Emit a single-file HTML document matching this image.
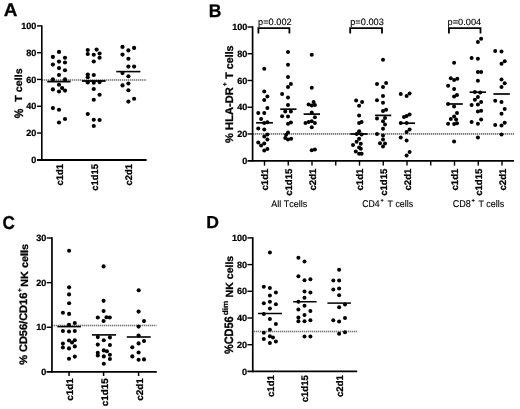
<!DOCTYPE html>
<html><head><meta charset="utf-8"><style>
html,body{margin:0;padding:0;background:#fff;}
body{width:520px;height:409px;overflow:hidden;}
svg{display:block;will-change:transform;}
text{font-family:"Liberation Sans",sans-serif;font-kerning:none;text-rendering:geometricPrecision;}
text[font-weight=bold]{stroke:#000;stroke-width:0.28px;}
text[font-weight=normal]{stroke:#000;stroke-width:0.12px;}
</style></head><body>
<svg width="520" height="409" viewBox="0 0 520 409">
<rect width="520" height="409" fill="#fff"/>
<text transform="translate(3.73,15.70) scale(1.8930,1.8169)" font-size="10.0" font-weight="bold" fill="#000" style="stroke-width:0.15px">A</text>
<text transform="translate(208.83,16.60) scale(1.7545,1.8314)" font-size="10.0" font-weight="bold" fill="#000" style="stroke-width:0.15px">B</text>
<text transform="translate(2.50,229.42) scale(1.7130,1.8644)" font-size="10.0" font-weight="bold" fill="#000" style="stroke-width:0.15px">C</text>
<text transform="translate(206.22,228.20) scale(1.7610,1.7297)" font-size="10.0" font-weight="bold" fill="#000" style="stroke-width:0.15px">D</text>
<line x1="42" y1="80.05000000000001" x2="146.3" y2="80.05000000000001" stroke="#cfcfcf" stroke-width="1.6" />
<line x1="42" y1="80.05000000000001" x2="146.3" y2="80.05000000000001" stroke="#7a7a7a" stroke-width="1.6" stroke-dasharray="1,1"/>
<line x1="41.8" y1="25.150000000000006" x2="41.8" y2="160.4" stroke="#000" stroke-width="1.6" />
<line x1="37.0" y1="160.0" x2="146.6" y2="160.0" stroke="#000" stroke-width="1.8" />
<line x1="37.0" y1="25.900000000000006" x2="41.8" y2="25.900000000000006" stroke="#000" stroke-width="1.4" />
<line x1="37.0" y1="52.68000000000001" x2="41.8" y2="52.68000000000001" stroke="#000" stroke-width="1.4" />
<line x1="37.0" y1="79.46000000000001" x2="41.8" y2="79.46000000000001" stroke="#000" stroke-width="1.4" />
<line x1="37.0" y1="106.24000000000001" x2="41.8" y2="106.24000000000001" stroke="#000" stroke-width="1.4" />
<line x1="37.0" y1="133.02" x2="41.8" y2="133.02" stroke="#000" stroke-width="1.4" />
<text transform="translate(21.19,29.03) scale(0.9100,0.9100)" font-size="10.0" font-weight="bold" fill="#000" style="stroke-width:0.25px">100</text>
<text transform="translate(26.25,55.81) scale(0.9100,0.9100)" font-size="10.0" font-weight="bold" fill="#000" style="stroke-width:0.25px">80</text>
<text transform="translate(26.25,82.59) scale(0.9100,0.9100)" font-size="10.0" font-weight="bold" fill="#000" style="stroke-width:0.25px">60</text>
<text transform="translate(26.25,109.37) scale(0.9100,0.9100)" font-size="10.0" font-weight="bold" fill="#000" style="stroke-width:0.25px">40</text>
<text transform="translate(26.25,136.15) scale(0.9100,0.9100)" font-size="10.0" font-weight="bold" fill="#000" style="stroke-width:0.25px">20</text>
<text transform="translate(31.31,162.93) scale(0.9100,0.9100)" font-size="10.0" font-weight="bold" fill="#000" style="stroke-width:0.25px">0</text>
<text transform="translate(62.53,185.46) rotate(-90) scale(0.9400,0.9600)" font-size="10.0" font-weight="bold" fill="#000" >c1d1</text>
<text transform="translate(97.73,190.69) rotate(-90) scale(0.9400,0.9600)" font-size="10.0" font-weight="bold" fill="#000" >c1d15</text>
<text transform="translate(131.73,185.46) rotate(-90) scale(0.9400,0.9600)" font-size="10.0" font-weight="bold" fill="#000" >c2d1</text>
<line x1="253" y1="133.9" x2="514.2" y2="133.9" stroke="#cfcfcf" stroke-width="1.6" />
<line x1="253" y1="133.9" x2="514.2" y2="133.9" stroke="#7a7a7a" stroke-width="1.6" stroke-dasharray="1,1"/>
<line x1="252.6" y1="26.25" x2="252.6" y2="161.6" stroke="#000" stroke-width="1.7" />
<line x1="247.5" y1="160.8" x2="514.0" y2="160.8" stroke="#000" stroke-width="1.7" />
<line x1="247.5" y1="27.0" x2="252.6" y2="27.0" stroke="#000" stroke-width="1.4" />
<line x1="247.5" y1="53.739999999999995" x2="252.6" y2="53.739999999999995" stroke="#000" stroke-width="1.4" />
<line x1="247.5" y1="80.47999999999999" x2="252.6" y2="80.47999999999999" stroke="#000" stroke-width="1.4" />
<line x1="247.5" y1="107.22" x2="252.6" y2="107.22" stroke="#000" stroke-width="1.4" />
<line x1="247.5" y1="133.95999999999998" x2="252.6" y2="133.95999999999998" stroke="#000" stroke-width="1.4" />
<text transform="translate(232.19,30.13) scale(0.9100,0.9100)" font-size="10.0" font-weight="bold" fill="#000" style="stroke-width:0.25px">100</text>
<text transform="translate(237.25,56.87) scale(0.9100,0.9100)" font-size="10.0" font-weight="bold" fill="#000" style="stroke-width:0.25px">80</text>
<text transform="translate(237.25,83.61) scale(0.9100,0.9100)" font-size="10.0" font-weight="bold" fill="#000" style="stroke-width:0.25px">60</text>
<text transform="translate(237.25,110.35) scale(0.9100,0.9100)" font-size="10.0" font-weight="bold" fill="#000" style="stroke-width:0.25px">40</text>
<text transform="translate(237.25,137.09) scale(0.9100,0.9100)" font-size="10.0" font-weight="bold" fill="#000" style="stroke-width:0.25px">20</text>
<text transform="translate(242.31,163.83) scale(0.9100,0.9100)" font-size="10.0" font-weight="bold" fill="#000" style="stroke-width:0.25px">0</text>
<line x1="264.5" y1="160.8" x2="264.5" y2="165.6" stroke="#000" stroke-width="1.4" />
<line x1="288.25" y1="160.8" x2="288.25" y2="165.6" stroke="#000" stroke-width="1.4" />
<line x1="312.0" y1="160.8" x2="312.0" y2="165.6" stroke="#000" stroke-width="1.4" />
<line x1="335.75" y1="160.8" x2="335.75" y2="165.6" stroke="#000" stroke-width="1.4" />
<line x1="359.5" y1="160.8" x2="359.5" y2="165.6" stroke="#000" stroke-width="1.4" />
<line x1="383.25" y1="160.8" x2="383.25" y2="165.6" stroke="#000" stroke-width="1.4" />
<line x1="407.0" y1="160.8" x2="407.0" y2="165.6" stroke="#000" stroke-width="1.4" />
<line x1="430.75" y1="160.8" x2="430.75" y2="165.6" stroke="#000" stroke-width="1.4" />
<line x1="454.5" y1="160.8" x2="454.5" y2="165.6" stroke="#000" stroke-width="1.4" />
<line x1="478.25" y1="160.8" x2="478.25" y2="165.6" stroke="#000" stroke-width="1.4" />
<line x1="502.0" y1="160.8" x2="502.0" y2="165.6" stroke="#000" stroke-width="1.4" />
<text transform="translate(268.03,190.51) rotate(-90) scale(0.9600,0.9600)" font-size="10.0" font-weight="bold" fill="#000" >c1d1</text>
<text transform="translate(291.78,195.85) rotate(-90) scale(0.9600,0.9600)" font-size="10.0" font-weight="bold" fill="#000" >c1d15</text>
<text transform="translate(315.53,190.51) rotate(-90) scale(0.9600,0.9600)" font-size="10.0" font-weight="bold" fill="#000" >c2d1</text>
<text transform="translate(363.03,190.51) rotate(-90) scale(0.9600,0.9600)" font-size="10.0" font-weight="bold" fill="#000" >c1d1</text>
<text transform="translate(386.78,195.85) rotate(-90) scale(0.9600,0.9600)" font-size="10.0" font-weight="bold" fill="#000" >c1d15</text>
<text transform="translate(410.53,190.51) rotate(-90) scale(0.9600,0.9600)" font-size="10.0" font-weight="bold" fill="#000" >c2d1</text>
<text transform="translate(458.03,190.51) rotate(-90) scale(0.9600,0.9600)" font-size="10.0" font-weight="bold" fill="#000" >c1d1</text>
<text transform="translate(481.78,195.85) rotate(-90) scale(0.9600,0.9600)" font-size="10.0" font-weight="bold" fill="#000" >c1d15</text>
<text transform="translate(505.53,190.51) rotate(-90) scale(0.9600,0.9600)" font-size="10.0" font-weight="bold" fill="#000" >c2d1</text>
<line x1="52" y1="325.45" x2="156.5" y2="325.45" stroke="#cfcfcf" stroke-width="1.6" />
<line x1="52" y1="325.45" x2="156.5" y2="325.45" stroke="#7a7a7a" stroke-width="1.6" stroke-dasharray="1,1"/>
<line x1="51.95" y1="237.25999999999996" x2="51.95" y2="372.8" stroke="#000" stroke-width="1.7" />
<line x1="46.5" y1="371.9" x2="156.8" y2="371.9" stroke="#000" stroke-width="1.8" />
<line x1="46.7" y1="238.00999999999996" x2="51.95" y2="238.00999999999996" stroke="#000" stroke-width="1.4" />
<line x1="46.7" y1="282.64" x2="51.95" y2="282.64" stroke="#000" stroke-width="1.4" />
<line x1="46.7" y1="327.27" x2="51.95" y2="327.27" stroke="#000" stroke-width="1.4" />
<text transform="translate(36.25,241.14) scale(0.9100,0.9100)" font-size="10.0" font-weight="bold" fill="#000" style="stroke-width:0.25px">30</text>
<text transform="translate(36.25,285.77) scale(0.9100,0.9100)" font-size="10.0" font-weight="bold" fill="#000" style="stroke-width:0.25px">20</text>
<text transform="translate(36.25,330.40) scale(0.9100,0.9100)" font-size="10.0" font-weight="bold" fill="#000" style="stroke-width:0.25px">10</text>
<text transform="translate(41.31,375.03) scale(0.9100,0.9100)" font-size="10.0" font-weight="bold" fill="#000" style="stroke-width:0.25px">0</text>
<line x1="69.05" y1="371.9" x2="69.05" y2="376.0" stroke="#000" stroke-width="1.5" />
<line x1="103.6" y1="371.9" x2="103.6" y2="376.0" stroke="#000" stroke-width="1.5" />
<line x1="138.6" y1="371.9" x2="138.6" y2="376.0" stroke="#000" stroke-width="1.5" />
<text transform="translate(73.33,400.69) rotate(-90) scale(0.9900,0.9600)" font-size="10.0" font-weight="bold" fill="#000" >c1d1</text>
<text transform="translate(108.03,406.20) rotate(-90) scale(0.9900,0.9600)" font-size="10.0" font-weight="bold" fill="#000" >c1d15</text>
<text transform="translate(142.93,400.69) rotate(-90) scale(0.9900,0.9600)" font-size="10.0" font-weight="bold" fill="#000" >c2d1</text>
<line x1="254" y1="331.45" x2="357.0" y2="331.45" stroke="#cfcfcf" stroke-width="1.6" />
<line x1="254" y1="331.45" x2="357.0" y2="331.45" stroke="#7a7a7a" stroke-width="1.6" stroke-dasharray="1,1"/>
<line x1="252.75" y1="237.14999999999998" x2="252.75" y2="372.3" stroke="#000" stroke-width="1.7" />
<line x1="247.4" y1="371.4" x2="357.2" y2="371.4" stroke="#000" stroke-width="1.8" />
<line x1="247.4" y1="237.89999999999998" x2="252.75" y2="237.89999999999998" stroke="#000" stroke-width="1.4" />
<line x1="247.4" y1="264.59999999999997" x2="252.75" y2="264.59999999999997" stroke="#000" stroke-width="1.4" />
<line x1="247.4" y1="291.29999999999995" x2="252.75" y2="291.29999999999995" stroke="#000" stroke-width="1.4" />
<line x1="247.4" y1="318.0" x2="252.75" y2="318.0" stroke="#000" stroke-width="1.4" />
<line x1="247.4" y1="344.7" x2="252.75" y2="344.7" stroke="#000" stroke-width="1.4" />
<text transform="translate(231.89,241.03) scale(0.9100,0.9100)" font-size="10.0" font-weight="bold" fill="#000" style="stroke-width:0.25px">100</text>
<text transform="translate(236.95,267.73) scale(0.9100,0.9100)" font-size="10.0" font-weight="bold" fill="#000" style="stroke-width:0.25px">80</text>
<text transform="translate(236.95,294.43) scale(0.9100,0.9100)" font-size="10.0" font-weight="bold" fill="#000" style="stroke-width:0.25px">60</text>
<text transform="translate(236.95,321.13) scale(0.9100,0.9100)" font-size="10.0" font-weight="bold" fill="#000" style="stroke-width:0.25px">40</text>
<text transform="translate(236.95,347.83) scale(0.9100,0.9100)" font-size="10.0" font-weight="bold" fill="#000" style="stroke-width:0.25px">20</text>
<text transform="translate(242.01,374.53) scale(0.9100,0.9100)" font-size="10.0" font-weight="bold" fill="#000" style="stroke-width:0.25px">0</text>
<text transform="translate(273.53,397.01) rotate(-90) scale(0.9600,0.9600)" font-size="10.0" font-weight="bold" fill="#000" >c1d1</text>
<text transform="translate(308.03,402.35) rotate(-90) scale(0.9600,0.9600)" font-size="10.0" font-weight="bold" fill="#000" >c1d15</text>
<text transform="translate(342.63,397.01) rotate(-90) scale(0.9600,0.9600)" font-size="10.0" font-weight="bold" fill="#000" >c2d1</text>
<text transform="translate(22.20,101.82) rotate(-90) scale(1.0750,1.0213)" font-size="10.0" font-weight="bold" fill="#000" >T cells</text>
<text transform="translate(22.60,118.17) rotate(-90) scale(1.0741,1.2223)" font-size="10.0" font-weight="bold" fill="#000" >%</text>
<text transform="translate(232.91,142.88) rotate(-90) scale(1.1142,1.0944)" font-size="10.0" font-weight="bold" fill="#000" >% HLA-DR</text>
<text transform="translate(227.23,86.28) rotate(-90) scale(0.6581,0.6695)" font-size="10.0" font-weight="bold" fill="#000" >+</text>
<text transform="translate(232.89,78.72) rotate(-90) scale(1.0684,1.0894)" font-size="10.0" font-weight="bold" fill="#000" >T cells</text>
<text transform="translate(27.38,364.87) rotate(-90) scale(1.1005,1.0878)" font-size="10.0" font-weight="bold" fill="#000" >% CD56/CD16</text>
<text transform="translate(22.04,291.88) rotate(-90) scale(0.6581,0.6892)" font-size="10.0" font-weight="bold" fill="#000" >+</text>
<text transform="translate(27.50,286.83) rotate(-90) scale(1.0864,1.0349)" font-size="10.0" font-weight="bold" fill="#000" >NK cells</text>
<text transform="translate(233.48,354.07) rotate(-90) scale(1.0961,1.2147)" font-size="10.0" font-weight="bold" fill="#000" >%CD56</text>
<text transform="translate(227.82,315.24) rotate(-90) scale(0.8240,0.7762)" font-size="10.0" font-weight="bold" fill="#000" >dim</text>
<text transform="translate(233.10,297.41) rotate(-90) scale(1.0551,1.0349)" font-size="10.0" font-weight="bold" fill="#000" >NK cells</text>
<text transform="translate(258.00,24.70) scale(0.9269,0.9169)" font-size="10.0" font-weight="normal" fill="#000" >p=0.002</text>
<text transform="translate(350.20,24.70) scale(0.9253,0.9169)" font-size="10.0" font-weight="normal" fill="#000" >p=0.003</text>
<text transform="translate(447.50,24.60) scale(0.9242,0.9026)" font-size="10.0" font-weight="normal" fill="#000" >p=0.004</text>
<path d="M258.4,33.5 V28.2 H289.40000000000003 V33.5" fill="none" stroke="#000" stroke-width="1.8"/>
<path d="M350.2,33.5 V28.2 H382.0 V33.5" fill="none" stroke="#000" stroke-width="1.8"/>
<path d="M448.9,33.5 V28.2 H480.5 V33.5" fill="none" stroke="#000" stroke-width="1.8"/>
<text transform="translate(271.28,207.01) scale(0.8984,0.9328)" font-size="10.0" font-weight="normal" fill="#000" >All Tcells</text>
<text transform="translate(362.16,207.20) scale(0.8696,0.9887)" font-size="10.0" font-weight="normal" fill="#000" >CD4</text>
<path d="M380.70,200.35H383.50M382.10,198.95V201.75" stroke="#000" stroke-width="0.8" fill="none"/>
<text transform="translate(387.60,207.21) scale(0.8832,0.9532)" font-size="10.0" font-weight="normal" fill="#000" >T cells</text>
<text transform="translate(452.74,207.20) scale(0.9075,0.9887)" font-size="10.0" font-weight="normal" fill="#000" >CD8</text>
<path d="M471.70,200.50H474.70M473.20,199.00V202.00" stroke="#000" stroke-width="0.8" fill="none"/>
<text transform="translate(478.40,207.21) scale(0.8938,0.9532)" font-size="10.0" font-weight="normal" fill="#000" >T cells</text>
<circle cx="59" cy="51.9" r="2.1"/>
<circle cx="52.9" cy="56.9" r="2.1"/>
<circle cx="65" cy="57.75" r="2.1"/>
<circle cx="59" cy="61.6" r="2.1"/>
<circle cx="65" cy="62.5" r="2.1"/>
<circle cx="52.9" cy="64.6" r="2.1"/>
<circle cx="59" cy="68.1" r="2.1"/>
<circle cx="65" cy="70.25" r="2.1"/>
<circle cx="59" cy="75" r="2.1"/>
<circle cx="52.9" cy="79.4" r="2.1"/>
<circle cx="65" cy="79.4" r="2.1"/>
<circle cx="59" cy="84.75" r="2.1"/>
<circle cx="62.1" cy="88.1" r="2.1"/>
<circle cx="52.9" cy="89.4" r="2.1"/>
<circle cx="59" cy="91.5" r="2.1"/>
<circle cx="65" cy="90.6" r="2.1"/>
<circle cx="52.9" cy="108.1" r="2.1"/>
<circle cx="59" cy="109.75" r="2.1"/>
<circle cx="65" cy="119" r="2.1"/>
<circle cx="59" cy="122.5" r="2.1"/>
<circle cx="87.75" cy="50" r="2.1"/>
<circle cx="96.6" cy="49.6" r="2.1"/>
<circle cx="87.75" cy="54" r="2.1"/>
<circle cx="93.75" cy="54.75" r="2.1"/>
<circle cx="99.6" cy="53.5" r="2.1"/>
<circle cx="99.6" cy="57.75" r="2.1"/>
<circle cx="93.75" cy="61.5" r="2.1"/>
<circle cx="87.75" cy="74.6" r="2.1"/>
<circle cx="93.75" cy="75" r="2.1"/>
<circle cx="87.75" cy="77.25" r="2.1"/>
<circle cx="87.75" cy="82.5" r="2.1"/>
<circle cx="93.75" cy="82.75" r="2.1"/>
<circle cx="99.6" cy="82.1" r="2.1"/>
<circle cx="93.75" cy="89" r="2.1"/>
<circle cx="99.6" cy="94.75" r="2.1"/>
<circle cx="93.75" cy="99.75" r="2.1"/>
<circle cx="87.75" cy="114" r="2.1"/>
<circle cx="93.75" cy="119.75" r="2.1"/>
<circle cx="99.6" cy="120" r="2.1"/>
<circle cx="93.75" cy="126" r="2.1"/>
<circle cx="122.5" cy="46.9" r="2.1"/>
<circle cx="134.1" cy="47.9" r="2.1"/>
<circle cx="128.4" cy="50.4" r="2.1"/>
<circle cx="122.5" cy="54.6" r="2.1"/>
<circle cx="128.4" cy="58.75" r="2.1"/>
<circle cx="128.4" cy="66.6" r="2.1"/>
<circle cx="134.1" cy="66.6" r="2.1"/>
<circle cx="122.5" cy="73.1" r="2.1"/>
<circle cx="128.4" cy="76.25" r="2.1"/>
<circle cx="128.4" cy="83.5" r="2.1"/>
<circle cx="122.5" cy="85.4" r="2.1"/>
<circle cx="128.4" cy="90.25" r="2.1"/>
<circle cx="134.1" cy="98.75" r="2.1"/>
<circle cx="128.4" cy="101.6" r="2.1"/>
<line x1="47.3" y1="81.6" x2="70.6" y2="81.6" stroke="#000" stroke-width="1.8" />
<line x1="81.9" y1="81.0" x2="105.6" y2="81.0" stroke="#000" stroke-width="1.8" />
<line x1="116.3" y1="71.6" x2="140.4" y2="71.6" stroke="#000" stroke-width="1.6" />
<circle cx="264.25" cy="68.75" r="2.0"/>
<circle cx="264.25" cy="91.5" r="2.0"/>
<circle cx="267.4" cy="96.5" r="2.0"/>
<circle cx="264.25" cy="100" r="2.0"/>
<circle cx="267.4" cy="108.1" r="2.0"/>
<circle cx="258.25" cy="113.1" r="2.0"/>
<circle cx="264.25" cy="113.1" r="2.0"/>
<circle cx="261.1" cy="119" r="2.0"/>
<circle cx="264.25" cy="123.1" r="2.0"/>
<circle cx="267.4" cy="122.25" r="2.0"/>
<circle cx="258.25" cy="128.4" r="2.0"/>
<circle cx="264.25" cy="129.4" r="2.0"/>
<circle cx="267.4" cy="134.6" r="2.0"/>
<circle cx="264.25" cy="136.6" r="2.0"/>
<circle cx="267.4" cy="139.4" r="2.0"/>
<circle cx="258.25" cy="142.5" r="2.0"/>
<circle cx="264.25" cy="143.5" r="2.0"/>
<circle cx="261.1" cy="145.4" r="2.0"/>
<circle cx="267.4" cy="149.1" r="2.0"/>
<circle cx="264.25" cy="150.4" r="2.0"/>
<circle cx="288" cy="51.9" r="2.0"/>
<circle cx="288" cy="64.75" r="2.0"/>
<circle cx="288" cy="77.1" r="2.0"/>
<circle cx="290.9" cy="84" r="2.0"/>
<circle cx="288" cy="86.9" r="2.0"/>
<circle cx="282.1" cy="94.1" r="2.0"/>
<circle cx="288" cy="97.5" r="2.0"/>
<circle cx="288" cy="105" r="2.0"/>
<circle cx="285.25" cy="111.6" r="2.0"/>
<circle cx="290.9" cy="111.6" r="2.0"/>
<circle cx="282.1" cy="116.25" r="2.0"/>
<circle cx="288" cy="116.5" r="2.0"/>
<circle cx="288" cy="123.75" r="2.0"/>
<circle cx="290.9" cy="122.5" r="2.0"/>
<circle cx="288" cy="132.5" r="2.0"/>
<circle cx="286.1" cy="134.75" r="2.0"/>
<circle cx="285.25" cy="138.1" r="2.0"/>
<circle cx="288" cy="139.4" r="2.0"/>
<circle cx="291.1" cy="138.75" r="2.0"/>
<circle cx="311.75" cy="54.75" r="2.0"/>
<circle cx="311.75" cy="87.75" r="2.0"/>
<circle cx="313.6" cy="101.9" r="2.0"/>
<circle cx="308.6" cy="104.4" r="2.0"/>
<circle cx="311.75" cy="105.6" r="2.0"/>
<circle cx="314.9" cy="105" r="2.0"/>
<circle cx="311.75" cy="112.5" r="2.0"/>
<circle cx="314.9" cy="117.25" r="2.0"/>
<circle cx="311.75" cy="121.25" r="2.0"/>
<circle cx="308.6" cy="121.9" r="2.0"/>
<circle cx="305.5" cy="123.1" r="2.0"/>
<circle cx="314.9" cy="123.1" r="2.0"/>
<circle cx="311.75" cy="127.25" r="2.0"/>
<circle cx="311.75" cy="150.25" r="2.0"/>
<circle cx="314.9" cy="149.6" r="2.0"/>
<circle cx="356.1" cy="100.6" r="2.0"/>
<circle cx="362.1" cy="101.9" r="2.0"/>
<circle cx="359.1" cy="105.75" r="2.0"/>
<circle cx="359.1" cy="115.6" r="2.0"/>
<circle cx="359.1" cy="123" r="2.0"/>
<circle cx="361.6" cy="122.1" r="2.0"/>
<circle cx="359.1" cy="131.3" r="2.0"/>
<circle cx="356.6" cy="134.1" r="2.0"/>
<circle cx="361.6" cy="134.6" r="2.0"/>
<circle cx="359.1" cy="138.8" r="2.0"/>
<circle cx="356.6" cy="141.8" r="2.0"/>
<circle cx="353" cy="145" r="2.0"/>
<circle cx="360.8" cy="143.8" r="2.0"/>
<circle cx="359.1" cy="147.6" r="2.0"/>
<circle cx="360.8" cy="148.8" r="2.0"/>
<circle cx="355.8" cy="151.6" r="2.0"/>
<circle cx="359.1" cy="153.75" r="2.0"/>
<circle cx="361.6" cy="153.75" r="2.0"/>
<circle cx="383" cy="59.8" r="2.0"/>
<circle cx="377" cy="84.1" r="2.0"/>
<circle cx="386.1" cy="83.1" r="2.0"/>
<circle cx="383" cy="87" r="2.0"/>
<circle cx="383" cy="96.1" r="2.0"/>
<circle cx="377" cy="100.25" r="2.0"/>
<circle cx="383" cy="102.75" r="2.0"/>
<circle cx="386.1" cy="109.75" r="2.0"/>
<circle cx="383" cy="111.1" r="2.0"/>
<circle cx="377" cy="118.6" r="2.0"/>
<circle cx="385" cy="117.9" r="2.0"/>
<circle cx="383" cy="121.3" r="2.0"/>
<circle cx="385" cy="124.6" r="2.0"/>
<circle cx="383" cy="128.8" r="2.0"/>
<circle cx="377" cy="134.1" r="2.0"/>
<circle cx="383" cy="135.5" r="2.0"/>
<circle cx="383" cy="139.6" r="2.0"/>
<circle cx="380" cy="143.3" r="2.0"/>
<circle cx="385" cy="143.5" r="2.0"/>
<circle cx="383" cy="146.6" r="2.0"/>
<circle cx="400.75" cy="94" r="2.0"/>
<circle cx="406.6" cy="96.1" r="2.0"/>
<circle cx="409.6" cy="93.6" r="2.0"/>
<circle cx="404" cy="117" r="2.0"/>
<circle cx="409.6" cy="114.5" r="2.0"/>
<circle cx="406.6" cy="116.1" r="2.0"/>
<circle cx="400.75" cy="123" r="2.0"/>
<circle cx="406.6" cy="123" r="2.0"/>
<circle cx="409.6" cy="129.6" r="2.0"/>
<circle cx="406.6" cy="132.1" r="2.0"/>
<circle cx="400.75" cy="137.6" r="2.0"/>
<circle cx="406.6" cy="140.5" r="2.0"/>
<circle cx="409.6" cy="152.1" r="2.0"/>
<circle cx="406.6" cy="155.4" r="2.0"/>
<circle cx="454.1" cy="62.8" r="2.0"/>
<circle cx="450.8" cy="78.25" r="2.0"/>
<circle cx="454.1" cy="79.9" r="2.0"/>
<circle cx="457.3" cy="78.75" r="2.0"/>
<circle cx="448.1" cy="85.75" r="2.0"/>
<circle cx="454.1" cy="89.1" r="2.0"/>
<circle cx="457" cy="94.9" r="2.0"/>
<circle cx="454.1" cy="96.4" r="2.0"/>
<circle cx="448.1" cy="104.1" r="2.0"/>
<circle cx="454.1" cy="106.6" r="2.0"/>
<circle cx="457" cy="113" r="2.0"/>
<circle cx="454.1" cy="116.6" r="2.0"/>
<circle cx="450.8" cy="119.1" r="2.0"/>
<circle cx="456.1" cy="119.6" r="2.0"/>
<circle cx="448.1" cy="123.8" r="2.0"/>
<circle cx="454.1" cy="124.1" r="2.0"/>
<circle cx="457" cy="123.3" r="2.0"/>
<circle cx="454.1" cy="141.6" r="2.0"/>
<circle cx="481.1" cy="38.65" r="2.0"/>
<circle cx="477.9" cy="42" r="2.0"/>
<circle cx="471.6" cy="58" r="2.0"/>
<circle cx="477.9" cy="58.8" r="2.0"/>
<circle cx="477.9" cy="71.9" r="2.0"/>
<circle cx="481.1" cy="71.9" r="2.0"/>
<circle cx="477.9" cy="80.75" r="2.0"/>
<circle cx="474.9" cy="91.9" r="2.0"/>
<circle cx="480.2" cy="92.5" r="2.0"/>
<circle cx="477.9" cy="97" r="2.0"/>
<circle cx="474.9" cy="99.65" r="2.0"/>
<circle cx="481.1" cy="102" r="2.0"/>
<circle cx="471.6" cy="105" r="2.0"/>
<circle cx="477.9" cy="104.6" r="2.0"/>
<circle cx="477.9" cy="111.6" r="2.0"/>
<circle cx="481.1" cy="110.8" r="2.0"/>
<circle cx="471.6" cy="121.9" r="2.0"/>
<circle cx="481.1" cy="119.6" r="2.0"/>
<circle cx="477.9" cy="123.8" r="2.0"/>
<circle cx="477.9" cy="137.4" r="2.0"/>
<circle cx="495.2" cy="51.1" r="2.0"/>
<circle cx="501.5" cy="51.6" r="2.0"/>
<circle cx="504.7" cy="61.3" r="2.0"/>
<circle cx="501.5" cy="63.8" r="2.0"/>
<circle cx="501.5" cy="79.6" r="2.0"/>
<circle cx="504.7" cy="83.25" r="2.0"/>
<circle cx="501.5" cy="87.1" r="2.0"/>
<circle cx="495.2" cy="100.8" r="2.0"/>
<circle cx="501.5" cy="102" r="2.0"/>
<circle cx="504.7" cy="109.1" r="2.0"/>
<circle cx="501.5" cy="113.8" r="2.0"/>
<circle cx="504.7" cy="122.8" r="2.0"/>
<circle cx="495.2" cy="124.9" r="2.0"/>
<circle cx="501.5" cy="125.4" r="2.0"/>
<circle cx="501.5" cy="134.6" r="2.0"/>
<line x1="256.1" y1="122.8" x2="272.9" y2="122.8" stroke="#000" stroke-width="1.7" />
<line x1="280.25" y1="109.2" x2="296.5" y2="109.2" stroke="#000" stroke-width="1.7" />
<line x1="303.6" y1="114.1" x2="320" y2="114.1" stroke="#000" stroke-width="1.7" />
<line x1="350.3" y1="134.0" x2="367.5" y2="134.0" stroke="#000" stroke-width="1.7" />
<line x1="375" y1="115.4" x2="391.25" y2="115.4" stroke="#000" stroke-width="1.7" />
<line x1="399" y1="123.2" x2="415" y2="123.2" stroke="#000" stroke-width="1.7" />
<line x1="446.6" y1="104.0" x2="462.8" y2="104.0" stroke="#000" stroke-width="1.7" />
<line x1="469.6" y1="92.2" x2="486" y2="92.2" stroke="#000" stroke-width="1.7" />
<line x1="493.4" y1="94.0" x2="509.9" y2="94.0" stroke="#000" stroke-width="1.7" />
<circle cx="69.1" cy="250.8" r="2.05"/>
<circle cx="69.1" cy="287.35" r="2.05"/>
<circle cx="69.1" cy="294.4" r="2.05"/>
<circle cx="69.1" cy="303.3" r="2.05"/>
<circle cx="62.9" cy="312.7" r="2.05"/>
<circle cx="69.1" cy="313.9" r="2.05"/>
<circle cx="74.8" cy="323" r="2.05"/>
<circle cx="69" cy="324.7" r="2.05"/>
<circle cx="62.9" cy="331" r="2.05"/>
<circle cx="69" cy="331.5" r="2.05"/>
<circle cx="74.8" cy="331" r="2.05"/>
<circle cx="69" cy="340.5" r="2.05"/>
<circle cx="74.8" cy="340.3" r="2.05"/>
<circle cx="72" cy="342.5" r="2.05"/>
<circle cx="62.9" cy="343.6" r="2.05"/>
<circle cx="62.9" cy="347.5" r="2.05"/>
<circle cx="69" cy="348.4" r="2.05"/>
<circle cx="74.8" cy="346.4" r="2.05"/>
<circle cx="69" cy="358.7" r="2.05"/>
<circle cx="74.8" cy="356.6" r="2.05"/>
<circle cx="103.6" cy="266.4" r="2.05"/>
<circle cx="103.6" cy="300.85" r="2.05"/>
<circle cx="103.6" cy="311" r="2.05"/>
<circle cx="97.8" cy="317.5" r="2.05"/>
<circle cx="106.5" cy="317.25" r="2.05"/>
<circle cx="109.8" cy="317.5" r="2.05"/>
<circle cx="103.6" cy="321" r="2.05"/>
<circle cx="97.8" cy="337.1" r="2.05"/>
<circle cx="109.9" cy="337.4" r="2.05"/>
<circle cx="103.8" cy="340.25" r="2.05"/>
<circle cx="97.8" cy="344.6" r="2.05"/>
<circle cx="109.9" cy="345" r="2.05"/>
<circle cx="103.8" cy="350.4" r="2.05"/>
<circle cx="106.9" cy="351.2" r="2.05"/>
<circle cx="97.8" cy="352.8" r="2.05"/>
<circle cx="97.8" cy="355.4" r="2.05"/>
<circle cx="109.9" cy="354.8" r="2.05"/>
<circle cx="103.8" cy="356.4" r="2.05"/>
<circle cx="109.9" cy="359" r="2.05"/>
<circle cx="103.8" cy="363.75" r="2.05"/>
<circle cx="138.7" cy="290.25" r="2.05"/>
<circle cx="138.6" cy="311.6" r="2.05"/>
<circle cx="144" cy="321.1" r="2.05"/>
<circle cx="138.6" cy="326.6" r="2.05"/>
<circle cx="138.6" cy="335.5" r="2.05"/>
<circle cx="144" cy="341" r="2.05"/>
<circle cx="138.6" cy="343.4" r="2.05"/>
<circle cx="132.3" cy="347.3" r="2.05"/>
<circle cx="138.6" cy="352.5" r="2.05"/>
<circle cx="132.3" cy="356.4" r="2.05"/>
<circle cx="138.6" cy="359.8" r="2.05"/>
<circle cx="144" cy="359.4" r="2.05"/>
<line x1="57.4" y1="326.6" x2="81.0" y2="326.6" stroke="#000" stroke-width="1.6" />
<line x1="92.0" y1="334.9" x2="116.0" y2="334.9" stroke="#000" stroke-width="1.6" />
<line x1="126.8" y1="337.0" x2="150.7" y2="337.0" stroke="#000" stroke-width="1.6" />
<circle cx="269.9" cy="252.4" r="2.0"/>
<circle cx="263.8" cy="286.7" r="2.0"/>
<circle cx="269.9" cy="288.05" r="2.0"/>
<circle cx="275.9" cy="292.4" r="2.0"/>
<circle cx="269.9" cy="295.5" r="2.0"/>
<circle cx="263.8" cy="303.3" r="2.0"/>
<circle cx="269.9" cy="301.75" r="2.0"/>
<circle cx="275.9" cy="304.3" r="2.0"/>
<circle cx="269.9" cy="308.6" r="2.0"/>
<circle cx="263.8" cy="313.9" r="2.0"/>
<circle cx="269.9" cy="319" r="2.0"/>
<circle cx="275.9" cy="324" r="2.0"/>
<circle cx="269.9" cy="329.75" r="2.0"/>
<circle cx="263.8" cy="332.7" r="2.0"/>
<circle cx="269.9" cy="336.2" r="2.0"/>
<circle cx="273" cy="337.6" r="2.0"/>
<circle cx="263.8" cy="339.1" r="2.0"/>
<circle cx="269.9" cy="343" r="2.0"/>
<circle cx="275.9" cy="341.5" r="2.0"/>
<circle cx="298.4" cy="257.7" r="2.0"/>
<circle cx="304.5" cy="261.6" r="2.0"/>
<circle cx="298.4" cy="276.3" r="2.0"/>
<circle cx="304.5" cy="280.2" r="2.0"/>
<circle cx="310.4" cy="279.25" r="2.0"/>
<circle cx="304.5" cy="291.4" r="2.0"/>
<circle cx="310.4" cy="292.4" r="2.0"/>
<circle cx="304.5" cy="297.8" r="2.0"/>
<circle cx="298.4" cy="301.75" r="2.0"/>
<circle cx="304.5" cy="305.7" r="2.0"/>
<circle cx="298.4" cy="309.6" r="2.0"/>
<circle cx="310.4" cy="311.1" r="2.0"/>
<circle cx="304.5" cy="314.9" r="2.0"/>
<circle cx="298.4" cy="317.4" r="2.0"/>
<circle cx="298.4" cy="321.3" r="2.0"/>
<circle cx="304.5" cy="321.3" r="2.0"/>
<circle cx="310.4" cy="320.3" r="2.0"/>
<circle cx="304.5" cy="336.6" r="2.0"/>
<circle cx="310.4" cy="336.6" r="2.0"/>
<circle cx="339.1" cy="269.85" r="2.0"/>
<circle cx="333.3" cy="280.6" r="2.0"/>
<circle cx="339.1" cy="280.6" r="2.0"/>
<circle cx="333.3" cy="289.6" r="2.0"/>
<circle cx="339.1" cy="288.4" r="2.0"/>
<circle cx="339.1" cy="295.3" r="2.0"/>
<circle cx="339.1" cy="307.2" r="2.0"/>
<circle cx="345" cy="304.5" r="2.0"/>
<circle cx="333.3" cy="320.3" r="2.0"/>
<circle cx="339.1" cy="321.5" r="2.0"/>
<circle cx="345" cy="317.9" r="2.0"/>
<circle cx="339.1" cy="333.7" r="2.0"/>
<circle cx="345" cy="332.3" r="2.0"/>
<line x1="258" y1="313.5" x2="282" y2="313.5" stroke="#000" stroke-width="1.5" />
<line x1="293.2" y1="301.75" x2="316.6" y2="301.75" stroke="#000" stroke-width="1.5" />
<line x1="327.4" y1="303.1" x2="350.9" y2="303.1" stroke="#000" stroke-width="1.5" />
</svg>
</body></html>
